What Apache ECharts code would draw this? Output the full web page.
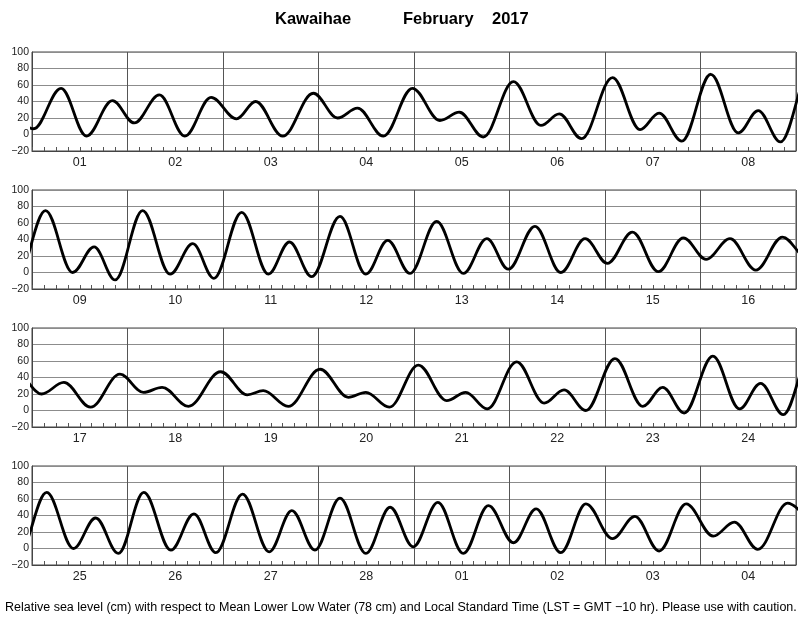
<!DOCTYPE html>
<html>
<head>
<meta charset="utf-8">
<script src="https://cdn.jsdelivr.net/npm/echarts@6/dist/echarts.min.js"></script>
<style>
html,body{margin:0;padding:0;background:#fff;}
#chart{width:800px;height:618px;}
</style>
</head>
<body>
<div id="chart"></div>
<script>
// Tide extrema: hours since 1 Feb 2017 00:00 LST, height in cm
var tideHours = [-6, 0.4, 7.3, 13.7, 20.2, 25.7, 32.0, 38.4, 45.0, 51.4, 56.2, 63.0, 70.7, 76.8, 81.8, 88.3,
  95.6, 102.5, 107.4, 113.4, 121.0, 127.9, 132.5, 138.1, 145.9, 152.8, 157.6, 163.3, 170.6, 177.5, 182.5, 188.1,
  195.4, 202.2, 207.6, 212.9, 219.8, 226.7, 232.4, 237.7, 244.7, 251.4, 256.7, 262.3, 269.4, 275.9, 281.4, 287.0,
  293.7, 300.4, 306.3, 311.7, 318.4, 324.9, 331.0, 336.6, 342.9, 349.4, 355.7, 361.4, 367.4, 373.9, 380.6,
  386.4, 392.0, 398.7, 406.1, 412.0, 416.7, 423.3, 431.4, 438.1, 442.1, 448.4, 456.4, 463.5, 467.9, 473.8,
  481.1, 488.2, 493.0, 498.4, 505.8, 512.7, 517.7, 523.2, 530.5, 537.5, 542.5, 547.9, 555.1, 561.8, 567.1, 572.8,
  579.7, 586.4, 592.0, 597.7, 604.1, 610.9, 616.7, 622.2, 628.9, 635.6, 641.3, 647.1, 653.4, 659.9, 666.0,
  671.8, 678.0, 684.4, 690.7, 697.0, 702.7, 708.9, 715.2, 721.9, 727.5, 733.6, 740.4, 747.2, 752.5, 758.4, 765.9, 773];
var tideHeights = [30, 7, 56, -2, 41, 14, 48, -2, 45, 19, 40, -2, 50, 20, 32, -2,
  56, 17, 27, -3, 64, 11, 25, -5, 69, 6, 26, -8, 73, 2, 29, -9,
  75, 0, 31, -9, 75, -2, 35, -7, 73, -2, 37, -5, 68, -2, 39, -1,
  62, -1, 41, 4, 56, 0, 41, 11, 49, 1, 42, 16, 41, 3, 43,
  20, 34, 4, 44, 22, 28, 5, 47, 19, 24, 5, 50, 16, 22, 4,
  55, 12, 22, 2, 59, 9, 25, 0, 63, 5, 28, -3, 66, 2, 33, -5,
  68, 0, 37, -6, 68, -2, 42, -5, 66, -4, 46, -2, 61, -6, 50,
  2, 56, -6, 52, 7, 48, -5, 54, 12, 39, -3, 54, 15, 32, -1, 55, 20];

var panelDays = [
  ['01', '02', '03', '04', '05', '06', '07', '08'],
  ['09', '10', '11', '12', '13', '14', '15', '16'],
  ['17', '18', '19', '20', '21', '22', '23', '24'],
  ['25', '26', '27', '28', '01', '02', '03', '04']
];
var yTicks = [-20, 0, 20, 40, 60, 80, 100];
var titleStation = 'Kawaihae';
var titleMonth = 'February';
var titleYear = '2017';
var footnote = 'Relative sea level (cm) with respect to Mean Lower Low Water (78 cm) and Local Standard Time (LST = GMT \u221210 hr). Please use with caution.';

var FONT = '"Liberation Sans", Arial, Helvetica, sans-serif';
var tidePoints = tideHours.map(function (h, i) { return [h, tideHeights[i]]; });

var grids = [], xAxes = [], yAxes = [], series = [];
var tops = [52, 190, 328, 466];
for (var k = 0; k < 4; k++) {
  grids.push({ left: 32, right: 4, top: tops[k], height: 99, show: true, borderColor: '#444', borderWidth: 1, backgroundColor: 'transparent' });
  xAxes.push({
    type: 'value', gridIndex: k, min: 192 * k, max: 192 * (k + 1), interval: 24, position: 'bottom',
    axisLine: { show: true, onZero: false, lineStyle: { color: '#444', width: 1 } },
    axisTick: { show: true, inside: true, length: 4, lineStyle: { color: '#555' } },
    minorTick: { show: true, splitNumber: 8, length: 4, lineStyle: { color: '#555' } },
    axisLabel: { show: false },
    splitLine: { show: true, lineStyle: { color: '#555', width: 1 } }
  });
  xAxes.push({
    type: 'category', gridIndex: k, position: 'bottom', data: panelDays[k], boundaryGap: true,
    axisLine: { show: false, onZero: false }, axisTick: { show: false }, splitLine: { show: false },
    axisLabel: { show: true, fontFamily: FONT, fontSize: 12.5, color: '#222', margin: 5 }
  });
  yAxes.push({
    type: 'value', gridIndex: k, min: yTicks[0], max: yTicks[yTicks.length - 1], interval: 20,
    axisLine: { show: true, onZero: false, lineStyle: { color: '#444' } },
    axisTick: { show: false },
    axisLabel: { fontFamily: FONT, fontSize: 10.5, color: '#222', margin: 3,
      formatter: function (v) { return String(v).replace('-', '\u2212'); } },
    splitLine: { show: true, lineStyle: { color: '#8c8c8c', width: 1 } }
  });
  series.push({
    type: 'line', xAxisIndex: 2 * k, yAxisIndex: k, data: tidePoints,
    smooth: 0.36, smoothMonotone: 'x', showSymbol: false, symbol: 'none', clip: true,
    lineStyle: { color: '#000', width: 2.8 }, animation: false, silent: true
  });
}

var titleStyle = { fontFamily: FONT, fontSize: 16.5, fontWeight: 'bold', color: '#000' };
var chart = echarts.init(document.getElementById('chart'), null, { renderer: 'canvas' });
chart.setOption({
  backgroundColor: '#fff',
  animation: false,
  title: [
    { text: titleStation, left: 270, top: 6, textStyle: titleStyle },
    { text: titleMonth, left: 398, top: 6, textStyle: titleStyle },
    { text: titleYear, left: 487, top: 6, textStyle: titleStyle }
  ],
  grid: grids,
  xAxis: xAxes,
  yAxis: yAxes,
  series: series,
  graphic: [{
    type: 'text', left: 5, top: 601,
    style: { text: footnote, fontFamily: FONT, fontSize: 12.5, fill: '#000' }
  }]
});
</script>
</body>
</html>
